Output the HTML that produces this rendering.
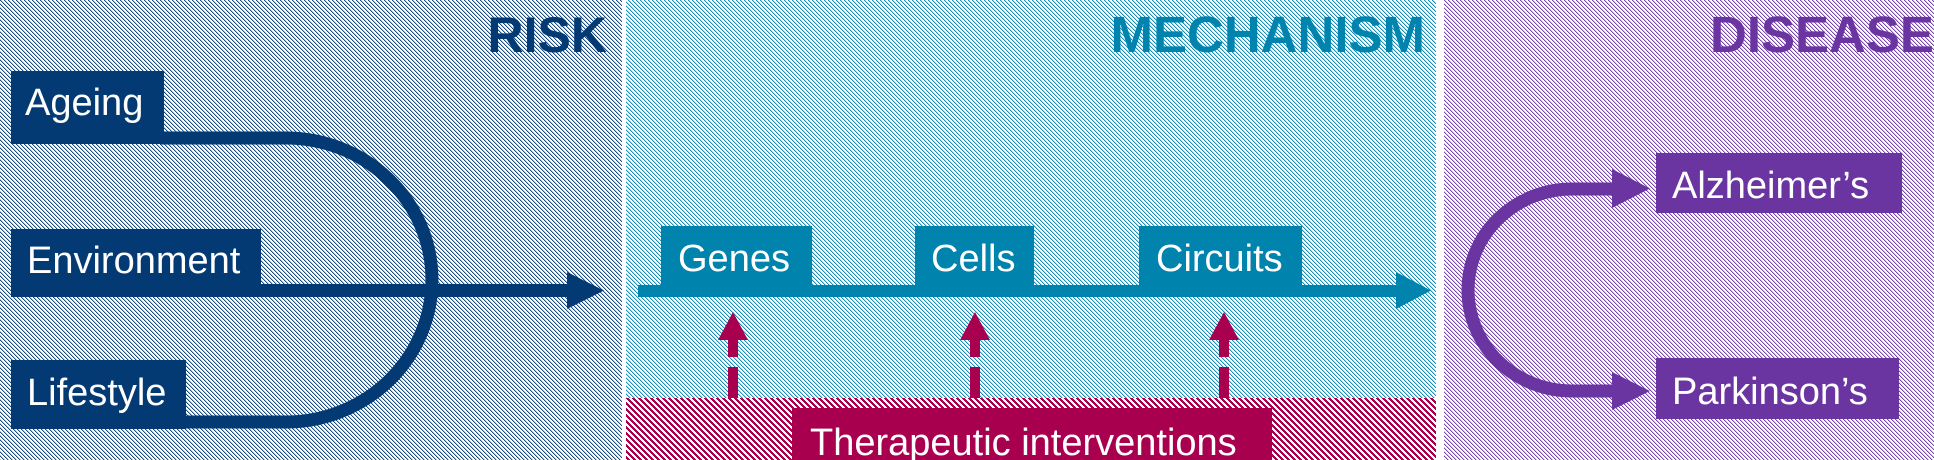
<!DOCTYPE html>
<html>
<head>
<meta charset="utf-8">
<style>
html,body{margin:0;padding:0;background:#ffffff;width:1934px;height:460px;overflow:hidden}
svg{display:block}
</style>
</head>
<body>
<svg width="1934" height="460" viewBox="0 0 1934 460" xmlns="http://www.w3.org/2000/svg" font-family="'Liberation Sans', Arial, sans-serif">
<defs>
  <pattern id="pNavy" width="4" height="4" patternUnits="userSpaceOnUse">
    <path shape-rendering="crispEdges" fill="#033a73" opacity="0.9" d="M0 0h1v1h-1z M1 1h1v1h-1z M2 2h1v1h-1z M3 3h1v1h-1z"/>
    <path shape-rendering="crispEdges" fill="#033a73" opacity="0.3" d="M1 0h1v1h-1z M2 1h1v1h-1z M3 2h1v1h-1z M0 3h1v1h-1z"/>
  </pattern>
  <pattern id="pCyan" width="4" height="4" patternUnits="userSpaceOnUse">
    <path shape-rendering="crispEdges" fill="#0083ad" opacity="0.9" d="M0 0h1v1h-1z M1 1h1v1h-1z M2 2h1v1h-1z M3 3h1v1h-1z"/>
    <path shape-rendering="crispEdges" fill="#0083ad" opacity="0.3" d="M1 0h1v1h-1z M2 1h1v1h-1z M3 2h1v1h-1z M0 3h1v1h-1z"/>
  </pattern>
  <pattern id="pPurple" width="4" height="4" patternUnits="userSpaceOnUse">
    <path shape-rendering="crispEdges" fill="#6a35a1" opacity="0.9" d="M0 0h1v1h-1z M1 1h1v1h-1z M2 2h1v1h-1z M3 3h1v1h-1z"/>
    <path shape-rendering="crispEdges" fill="#6a35a1" opacity="0.3" d="M1 0h1v1h-1z M2 1h1v1h-1z M3 2h1v1h-1z M0 3h1v1h-1z"/>
  </pattern>
  <pattern id="pPink" width="6" height="6" patternUnits="userSpaceOnUse">
    <path shape-rendering="crispEdges" fill="#a8004f" d="M0 0h3v1h-3z M1 1h3v1h-3z M2 2h3v1h-3z M3 3h3v1h-3z M4 4h2v1h-2z M0 4h1v1h-1z M5 5h1v1h-1z M0 5h2v1h-2z"/>
  </pattern>
</defs>

<!-- panel backgrounds -->
<rect x="0" y="0" width="1934" height="460" fill="#ffffff"/>
<rect x="0" y="0" width="622" height="460" fill="url(#pNavy)"/>
<rect x="626" y="0" width="810" height="460" fill="url(#pCyan)"/>
<rect x="626" y="398" width="810" height="62" fill="#ffffff"/>
<rect x="626" y="398" width="810" height="62" fill="url(#pPink)"/>
<rect x="1444" y="0" width="490" height="460" fill="url(#pPurple)"/>

<!-- titles -->
<text x="607" y="52" font-size="50" font-weight="bold" fill="#033a73" text-anchor="end">RISK</text>
<text x="1425" y="52" font-size="51" font-weight="bold" fill="#0083ad" text-anchor="end">MECHANISM</text>
<text x="1710" y="52" font-size="51" font-weight="bold" fill="#6a35a1">DISEASE</text>

<!-- RISK section -->
<path d="M160 138 L286 138 A146 142 0 0 1 286 422 L180 422" fill="none" stroke="#033a73" stroke-width="13"/>
<rect x="258" y="284" width="311" height="13" fill="#033a73"/>
<polygon points="567,272 604,290.5 567,309" fill="#033a73"/>

<rect x="11" y="71" width="153" height="73" fill="#033a73"/>
<text x="25" y="115" font-size="38" fill="#ffffff">Ageing</text>

<rect x="11" y="229" width="250" height="68" fill="#033a73"/>
<text x="27" y="273" font-size="38" fill="#ffffff">Environment</text>

<rect x="11" y="360" width="175" height="69" fill="#033a73"/>
<text x="27" y="405" font-size="38" fill="#ffffff">Lifestyle</text>

<!-- MECHANISM section -->
<rect x="638" y="285" width="760" height="12" fill="#0083ad"/>
<polygon points="1396,272 1431,290.5 1396,309" fill="#0083ad"/>

<rect x="661" y="226" width="151" height="71" fill="#0083ad"/>
<text x="678" y="271" font-size="38" fill="#ffffff">Genes</text>

<rect x="915" y="226" width="119" height="71" fill="#0083ad"/>
<text x="931" y="271" font-size="38" fill="#ffffff">Cells</text>

<rect x="1139" y="226" width="163" height="71" fill="#0083ad"/>
<text x="1156" y="271" font-size="38" fill="#ffffff">Circuits</text>

<!-- dashed intervention arrows -->
<g fill="#a8004f">
  <polygon points="733,312 748,340 718,340"/>
  <rect x="728" y="339" width="10" height="18"/>
  <rect x="728" y="367" width="10" height="31"/>

  <polygon points="975,312 990,340 960,340"/>
  <rect x="970" y="339" width="10" height="18"/>
  <rect x="970" y="367" width="10" height="31"/>

  <polygon points="1224,312 1239,340 1209,340"/>
  <rect x="1219" y="339" width="10" height="18"/>
  <rect x="1219" y="367" width="10" height="31"/>
</g>

<rect x="792" y="408" width="480" height="52" fill="#a8004f"/>
<text x="810" y="455" font-size="38" fill="#ffffff">Therapeutic interventions</text>

<!-- DISEASE section -->
<path d="M1616 189 L1572 189 A104 101 0 0 0 1572 391 L1616 391" fill="none" stroke="#6a35a1" stroke-width="13"/>
<polygon points="1612,169 1650,188.5 1612,208" fill="#6a35a1"/>
<polygon points="1612,372 1650,391 1612,410" fill="#6a35a1"/>

<rect x="1656" y="153" width="246" height="60" fill="#6a35a1"/>
<text x="1672" y="198" font-size="38" fill="#ffffff">Alzheimer’s</text>

<rect x="1656" y="358" width="243" height="61" fill="#6a35a1"/>
<text x="1672" y="404" font-size="38" fill="#ffffff">Parkinson’s</text>
</svg>
</body>
</html>
